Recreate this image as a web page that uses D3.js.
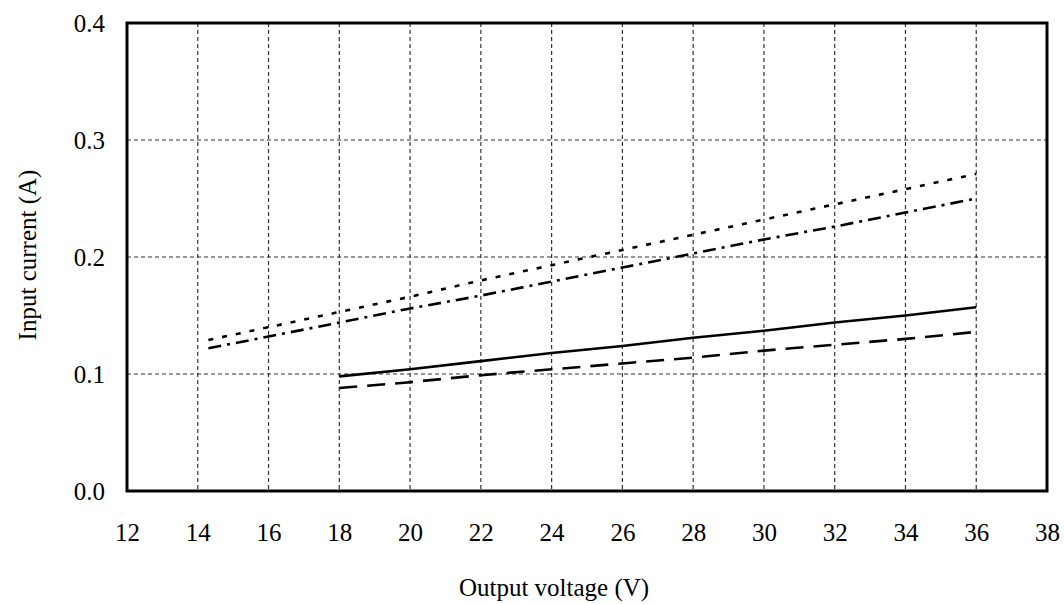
<!DOCTYPE html>
<html><head><meta charset="utf-8">
<script src="https://cdn.jsdelivr.net/npm/d3@7"></script>
<style>body{margin:0;background:#fff}svg{display:block}text{font-family:"Liberation Serif","Times New Roman",serif;fill:#000}</style>
</head><body><svg id="c" width="1064" height="604"></svg>
<script>
const xTicks = [12,14,16,18,20,22,24,26,28,30,32,34,36,38];
const yTicks = [0.0,0.1,0.2,0.3,0.4];
const xWide = [14.3,16,18,20,22,24,26,28,30,32,34,36];
const dottedVals = [0.129,0.140,0.153,0.166,0.180,0.193,0.206,0.219,0.232,0.245,0.258,0.271];
const dashDotVals = [0.122,0.132,0.144,0.156,0.167,0.179,0.191,0.203,0.215,0.226,0.238,0.250];
const xNarrow = [18,20,22,24,26,28,30,32,34,36];
const solidVals = [0.098,0.104,0.111,0.118,0.124,0.131,0.137,0.144,0.150,0.157];
const dashedVals = [0.088,0.093,0.099,0.104,0.109,0.114,0.120,0.125,0.130,0.136];

const svg = d3.select("#c");
const L=127,R=1047,T=23,B=491;
const x = d3.scaleLinear().domain([12,38]).range([L,R]);
const y = d3.scaleLinear().domain([0,0.4]).range([B,T]);

// grid
svg.append("g").selectAll("line").data(xTicks.slice(1,-1)).join("line")
  .attr("x1",d=>x(d)).attr("x2",d=>x(d)).attr("y1",T).attr("y2",B)
  .attr("stroke","#333").attr("stroke-width",1.2).attr("stroke-dasharray","4,3");
svg.append("g").selectAll("line").data(yTicks.slice(1,-1)).join("line")
  .attr("y1",d=>y(d)).attr("y2",d=>y(d)).attr("x1",L).attr("x2",R)
  .attr("stroke","#333").attr("stroke-width",1.2).attr("stroke-dasharray","4,3");

const xa = svg.append("g").attr("transform",`translate(0,${B})`)
  .call(d3.axisBottom(x).tickValues(xTicks).tickSize(0).tickPadding(41).tickFormat(d3.format("d")));
const ya = svg.append("g").attr("transform",`translate(${L},0)`)
  .call(d3.axisLeft(y).tickValues(yTicks).tickSize(0).tickPadding(22).tickFormat(d3.format(".1f")));
[xa,ya].forEach(a=>{a.select(".domain").remove();a.selectAll("text").style("font-size","25px").style("font-family","'Liberation Serif',serif").attr("fill","#000");});
xa.selectAll("text").attr("dy","0.35em");

// frame
svg.append("rect").attr("x",L).attr("y",T).attr("width",R-L).attr("height",B-T)
  .attr("fill","none").attr("stroke","#000").attr("stroke-width",3);

const line = d3.line().x(d=>x(d[0])).y(d=>y(d[1]));
const series = [
  {xs:xWide, vs:dottedVals, dash:"5,9"},
  {xs:xWide, vs:dashDotVals, dash:"13,6,3,6"},
  {xs:xNarrow, vs:solidVals, dash:null},
  {xs:xNarrow, vs:dashedVals, dash:"18,10"}
];
series.forEach(s=>{
  svg.append("path").datum(s.xs.map((v,i)=>[v,s.vs[i]])).attr("d",line)
    .attr("fill","none").attr("stroke","#000").attr("stroke-width",2.6)
    .attr("stroke-dasharray",s.dash);
});

svg.append("text").attr("x",554).attr("y",596).attr("text-anchor","middle")
  .style("font-size","25px").text("Output voltage (V)");
svg.append("text").attr("transform",`translate(36,255) rotate(-90)`).attr("text-anchor","middle")
  .style("font-size","25px").text("Input current (A)");
</script></body></html>
